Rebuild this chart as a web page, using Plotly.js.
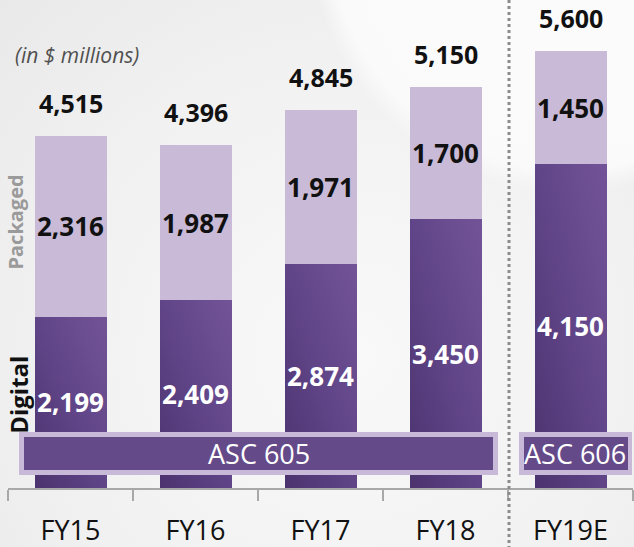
<!DOCTYPE html>
<html>
<head>
<meta charset="utf-8">
<script src="https://cdn.plot.ly/plotly-3.0.1.min.js"></script>
<style>
html, body { margin:0; padding:0; width:634px; height:547px; overflow:hidden; }
body {
  background:
    radial-gradient(circle at 570px -70px, #fcfcfc 0px, #fafafa 240px, rgba(250,250,250,0) 262px),
    radial-gradient(ellipse at 55% 65%, #f9f9f9 0%, #f1f1f1 60%, #e9e9e9 100%);
}
#chart { width:634px; height:547px; }
</style>
</head>
<body>
<div id="chart"></div>
<script>
const years = ['FY15', 'FY16', 'FY17', 'FY18', 'FY19E'];
const digital = [2199, 2409, 2874, 3450, 4150];
const packaged = [2316, 1987, 1971, 1700, 1450];
const totals = [4515, 4396, 4845, 5150, 5600];
const unitNote = '(in $ millions)';
const seriesNames = ['Digital', 'Packaged'];
const standards = ['ASC 605', 'ASC 606'];

const fmt = v => v.toLocaleString('en-US');
const FONT = 'Open Sans, Noto Sans, sans-serif';

const traces = [
  {
    type: 'bar', name: seriesNames[0], x: years, y: digital,
    marker: { color: '#61468a' },
    text: digital.map(fmt), textposition: 'inside', insidetextanchor: 'middle',
    textangle: 0, constraintext: 'none',
    insidetextfont: { family: FONT, size: 26, color: '#ffffff', weight: 'bold' },
    hoverinfo: 'none'
  },
  {
    type: 'bar', name: seriesNames[1], x: years, y: packaged,
    marker: { color: '#c9bbd8' },
    text: packaged.map(fmt), textposition: 'inside', insidetextanchor: 'middle',
    textangle: 0, constraintext: 'none',
    insidetextfont: { family: FONT, size: 26, color: '#111111', weight: 'bold' },
    hoverinfo: 'none'
  }
];

const annotations = years.map((yr, i) => ({
  x: yr, y: totals[i], xref: 'x', yref: 'y',
  text: fmt(totals[i]), showarrow: false, yanchor: 'middle', yshift: 33, borderpad: 0,
  font: { family: FONT, size: 25, color: '#111111', weight: 'bold' }
}));

annotations.push(
  { xref: 'paper', yref: 'paper', x: 0.008, y: 0.887, xanchor: 'left', yanchor: 'middle',
    text: unitNote, showarrow: false,
    font: { family: FONT, size: 21, color: '#505050', style: 'italic' } },
  { xref: 'paper', yref: 'paper', x: -0.0128, y: 0.545, xanchor: 'left', yanchor: 'middle',
    text: seriesNames[1], showarrow: false, textangle: -90,
    font: { family: FONT, size: 20, color: '#9a9a9a', weight: 'bold' } },
  { xref: 'paper', yref: 'paper', x: -0.0128, y: 0.19, xanchor: 'left', yanchor: 'middle',
    text: seriesNames[0], showarrow: false, textangle: -90,
    font: { family: FONT, size: 24, color: '#111111', weight: 'bold' } },
  { xref: 'paper', yref: 'paper', x: 0.401, y: 0.0707, xanchor: 'center', yanchor: 'middle',
    text: standards[0], showarrow: false,
    font: { family: FONT, size: 27, color: '#ffffff' } },
  { xref: 'paper', yref: 'paper', x: 0.907, y: 0.0707, xanchor: 'center', yanchor: 'middle',
    text: standards[1], showarrow: false,
    font: { family: FONT, size: 27, color: '#ffffff' } }
);

const shapes = [
  { type: 'rect', xref: 'paper', yref: 'paper', x0: 0.0176, x1: 0.784, y0: 0.0266, y1: 0.1148,
    fillcolor: '#c8b9d8', line: { width: 0 }, layer: 'above' },
  { type: 'rect', xref: 'paper', yref: 'paper', x0: 0.0256, x1: 0.776, y0: 0.0369, y1: 0.1045,
    fillcolor: '#654a8a', line: { width: 0 }, layer: 'above' },
  { type: 'rect', xref: 'paper', yref: 'paper', x0: 0.8176, x1: 0.9984, y0: 0.0266, y1: 0.1148,
    fillcolor: '#c8b9d8', line: { width: 0 }, layer: 'above' },
  { type: 'rect', xref: 'paper', yref: 'paper', x0: 0.8256, x1: 0.992, y0: 0.0369, y1: 0.1045,
    fillcolor: '#654a8a', line: { width: 0 }, layer: 'above' },
  { type: 'line', xref: 'paper', yref: 'paper', x0: 0.8016, x1: 0.8016, y0: -0.125, y1: 1.0,
    line: { color: '#8c8c8c', width: 3, dash: 'dot' }, layer: 'above' }
];

const layout = {
  width: 634, height: 547,
  margin: { l: 8, r: 1, t: 0, b: 59, pad: 0 },
  paper_bgcolor: 'rgba(0,0,0,0)', plot_bgcolor: 'rgba(0,0,0,0)',
  barmode: 'stack', bargap: 0.424,
  showlegend: false,
  xaxis: {
    type: 'category', range: [-0.5, 4.5], fixedrange: true,
    showline: true, linecolor: '#a8a8a8', linewidth: 2,
    ticks: 'outside', tickson: 'boundaries', ticklen: 11, tickwidth: 2, tickcolor: '#a8a8a8',
    ticklabelstandoff: 18,
    tickfont: { family: FONT, size: 27, color: '#111111' },
    showgrid: false, zeroline: false
  },
  yaxis: {
    range: [0, 6260], visible: false, fixedrange: true, showgrid: false, zeroline: false
  },
  annotations: annotations,
  shapes: shapes,
  font: { family: FONT }
};

Plotly.newPlot('chart', traces, layout, { displayModeBar: false, staticPlot: true }).then(gd => {
  const svg = gd.querySelector('.main-svg');
  const ns = 'http://www.w3.org/2000/svg';
  let defs = svg.querySelector('defs');
  if (!defs) { defs = document.createElementNS(ns, 'defs'); svg.insertBefore(defs, svg.firstChild); }
  const g = document.createElementNS(ns, 'linearGradient');
  g.setAttribute('id', 'digGrad');
  g.setAttribute('x1', '0'); g.setAttribute('y1', '1');
  g.setAttribute('x2', '1'); g.setAttribute('y2', '0');
  [['0', '#4b336e'], ['0.55', '#62468a'], ['1', '#735398']].forEach(([o, c]) => {
    const s = document.createElementNS(ns, 'stop');
    s.setAttribute('offset', o); s.setAttribute('stop-color', c);
    g.appendChild(s);
  });
  defs.appendChild(g);
  const barTraces = gd.querySelectorAll('.barlayer .trace');
  if (barTraces.length) {
    barTraces[0].querySelectorAll('.point path').forEach(p => { p.style.fill = 'url(#digGrad)'; });
  }
});
</script>
</body>
</html>
